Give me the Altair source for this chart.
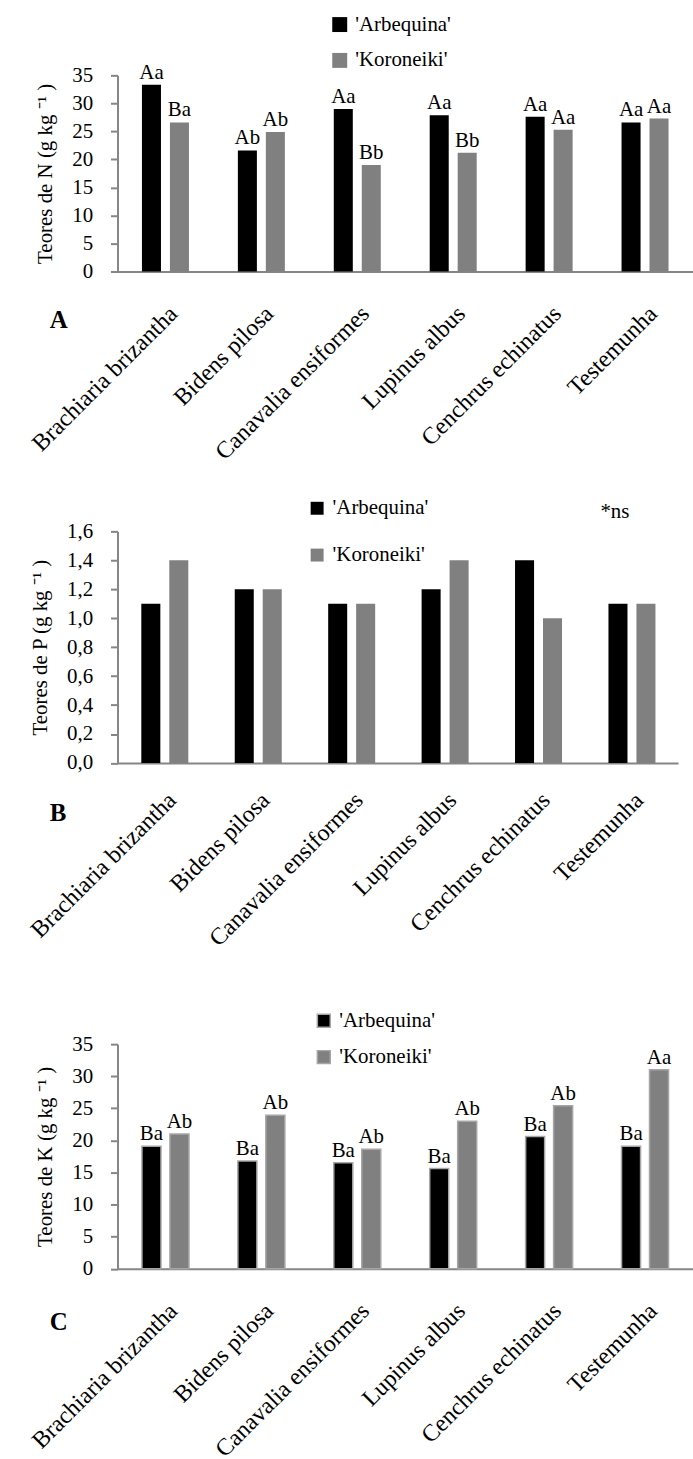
import altair as alt
import pandas as pd

FONT = "Liberation Serif, Times New Roman, serif"
AX = "#868686"

categories = ["Brachiaria brizantha", "Bidens pilosa", "Canavalia ensiformes",
              "Lupinus albus", "Cenchrus echinatus", "Testemunha"]
cultivars = ["'Arbequina'", "'Koroneiki'"]
bar_colors = ["#000000", "#808080"]

# Panel A - N
n_arbequina = [33.3, 21.6, 29.0, 27.9, 27.6, 26.6]
n_koroneiki = [26.6, 24.9, 19.0, 21.2, 25.3, 27.3]
n_letters_arbequina = ["Aa", "Ab", "Aa", "Aa", "Aa", "Aa"]
n_letters_koroneiki = ["Ba", "Ab", "Bb", "Bb", "Aa", "Aa"]
n_ticks = [0, 5, 10, 15, 20, 25, 30, 35]

# Panel B - P
p_arbequina = [1.1, 1.2, 1.1, 1.2, 1.4, 1.1]
p_koroneiki = [1.4, 1.2, 1.1, 1.4, 1.0, 1.1]
p_ticks = [0.0, 0.2, 0.4, 0.6, 0.8, 1.0, 1.2, 1.4, 1.6]

# Panel C - K
k_arbequina = [19.1, 16.8, 16.5, 15.6, 20.6, 19.1]
k_koroneiki = [21.0, 23.9, 18.6, 23.0, 25.4, 31.0]
k_letters_arbequina = ["Ba", "Ba", "Ba", "Ba", "Ba", "Ba"]
k_letters_koroneiki = ["Ab", "Ab", "Ab", "Ab", "Ab", "Aa"]
k_ticks = [0, 5, 10, 15, 20, 25, 30, 35]


def make_df(a_vals, k_vals, a_lab=None, k_lab=None):
    rows = []
    for i, c in enumerate(categories):
        rows.append({"cat": c, "cv": cultivars[0], "value": a_vals[i],
                     "letter": a_lab[i] if a_lab else ""})
        rows.append({"cat": c, "cv": cultivars[1], "value": k_vals[i],
                     "letter": k_lab[i] if k_lab else ""})
    return pd.DataFrame(rows)


def panel(df, ytitle, ymax, ticks, comma, width, height, lx, ly, lrow, sym,
          stroke, gap, letter, letter_dy, show_letters=True, ns=False, xpad=30,
          spacer=None):
    xenc = alt.X("cat:N", sort=categories, title=None,
                 scale=alt.Scale(paddingInner=0.51, paddingOuter=0.255),
                 axis=alt.Axis(labelAngle=315, labelAlign="right", labelBaseline="top",
                               labelPadding=xpad, labelOffset=0, ticks=False,
                               domainColor=AX, domainWidth=2, labelFont=FONT,
                               labelFontSize=24, labelColor="#000000", labelLimit=0))
    xoff = alt.XOffset("cv:N", sort=cultivars, scale=alt.Scale(paddingInner=gap))
    yaxis_kw = dict(values=ticks, grid=False, domainColor=AX, domainWidth=2,
                    tickColor=AX, tickWidth=2, tickSize=7, labelPadding=18,
                    labelFont=FONT, labelFontSize=21, labelColor="#000000",
                    titleFont=FONT, titleFontSize=21, titleFontWeight="normal",
                    titleColor="#000000", titlePadding=16)
    if comma:
        yaxis_kw["labelExpr"] = "replace(format(datum.value, '.1f'), '.', ',')"
    yenc = alt.Y("value:Q", title=ytitle,
                 scale=alt.Scale(domain=[0, ymax], nice=False, zero=True),
                 axis=alt.Axis(**yaxis_kw))
    legend_kw = dict(title=None, orient="none", legendX=lx, legendY=ly,
                     symbolType="square", symbolSize=sym, symbolOpacity=1,
                     labelFont=FONT, labelFontSize=21, labelColor="#000000",
                     rowPadding=lrow, labelOffset=5, padding=0)
    if stroke:
        legend_kw.update(symbolStrokeColor=stroke, symbolStrokeWidth=1.5)
    else:
        legend_kw.update(symbolStrokeWidth=0)
    color = alt.Color("cv:N", sort=cultivars,
                      scale=alt.Scale(domain=cultivars, range=bar_colors),
                      legend=alt.Legend(**legend_kw))
    bar_kw = dict(opacity=1)
    if stroke:
        bar_kw.update(stroke=stroke, strokeWidth=1.5)
    base = alt.Chart(df)
    layers = [base.mark_bar(**bar_kw).encode(x=xenc, xOffset=xoff, y=yenc, color=color)]
    if show_letters:
        layers.append(base.mark_text(baseline="alphabetic", dy=-6, font=FONT,
                                     fontSize=21, color="#000000").encode(
            x=xenc, xOffset=xoff, y=yenc, text="letter:N"))
    layers.append(alt.Chart(pd.DataFrame({"t": [letter]})).mark_text(
        align="left", baseline="alphabetic", font=FONT, fontSize=25,
        fontWeight="bold", color="#000000").encode(
        x=alt.value(-68), y=alt.value(height + letter_dy), text="t:N"))
    if ns:
        layers.append(alt.Chart(pd.DataFrame({"t": ["*ns"]})).mark_text(
            align="left", baseline="middle", font=FONT, fontSize=21,
            color="#000000").encode(x=alt.value(485), y=alt.value(-19), text="t:N"))
    if spacer is not None:
        layers.append(alt.Chart(pd.DataFrame({"t": ["."]})).mark_text(
            align="left", baseline="top", fontSize=10, opacity=0).encode(
            x=alt.value(0), y=alt.value(spacer), text="t:N"))
    return alt.layer(*layers).properties(width=width, height=height)


dfA = make_df(n_arbequina, n_koroneiki, n_letters_arbequina, n_letters_koroneiki)
dfB = make_df(p_arbequina, p_koroneiki)
dfC = make_df(k_arbequina, k_koroneiki, k_letters_arbequina, k_letters_koroneiki)

A = panel(dfA, "Teores de N (g kg ⁻¹ )", 35, n_ticks, False, 578, 197,
          212.7, -61.5, 14, 225, None, 0.32, "A", 57)
B = panel(dfB, "Teores de P (g kg ⁻¹ )", 1.6, p_ticks, True, 563, 232.6,
          190, -33.7, 25, 169, None, 0.23, "B", 58, show_letters=False, ns=True, xpad=25)
C = panel(dfC, "Teores de K (g kg ⁻¹ )", 35, k_ticks, False, 578, 225.5,
          196.7, -34, 14.5, 169, "#a6a6a6", 0.4, "C", 62, spacer=-60)

chart = alt.vconcat(A, B, C, spacing=33).resolve_scale(
    color="independent").resolve_legend(color="independent").properties(
    padding={"left": 26, "top": 10.5, "right": 0, "bottom": 0}
).configure_view(stroke=None)

chart.save("out.html", embed_options={"renderer": "svg", "actions": False})
